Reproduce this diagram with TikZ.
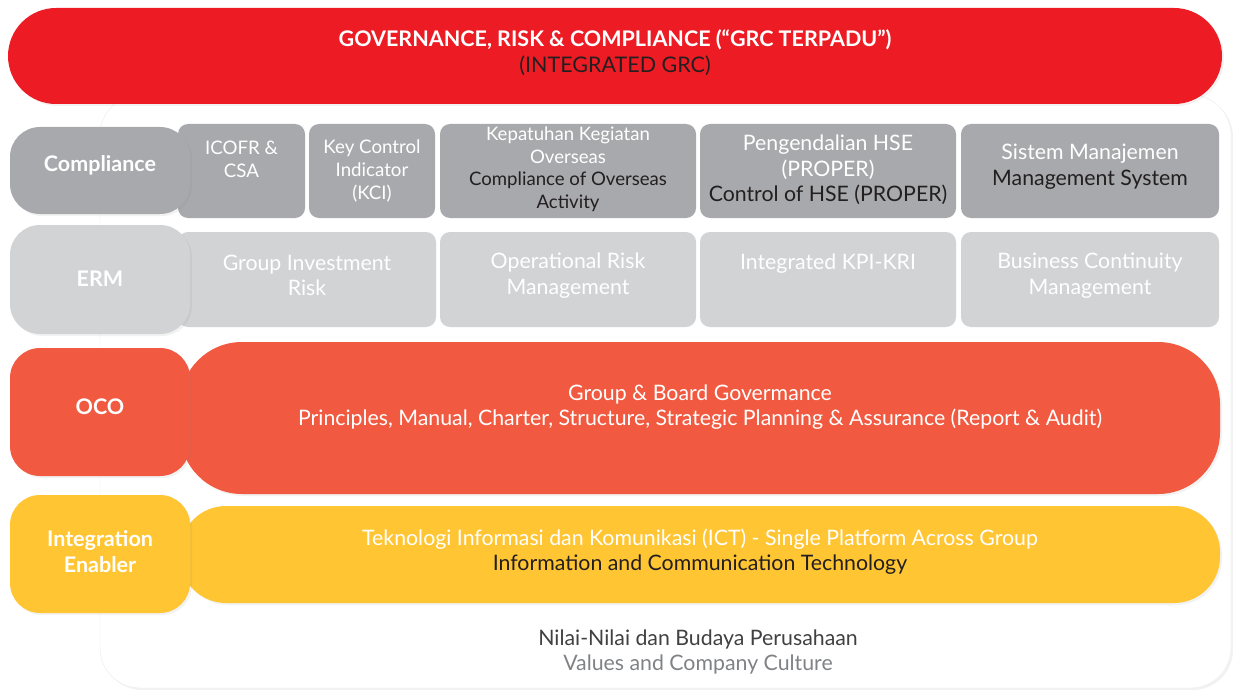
\documentclass[tikz,border=0pt]{standalone}
\usepackage{fontspec}
\setmainfont{Lato}
\usetikzlibrary{positioning,shadows}
\definecolor{grcred}{HTML}{ED1C24}
\definecolor{compgray}{HTML}{A7A9AC}
\definecolor{ermgray}{HTML}{D1D3D4}
\definecolor{ocored}{HTML}{F15A40}
\definecolor{ictyellow}{HTML}{FFC532}
\definecolor{ink}{HTML}{231F20}
\definecolor{culture}{HTML}{414042}
\definecolor{cultureen}{HTML}{808285}
\tikzset{
  softshadow/.style={drop shadow={opacity=.1,shadow xshift=2pt,shadow yshift=-2pt}},
  tag/.style={fill=#1, rounded corners=30pt, minimum width=180pt, inner sep=0pt, softshadow},
  cell/.style={fill=#1, rounded corners=10pt, inner sep=0pt},
  band/.style={fill=#1, inner sep=0pt, softshadow},
  txt/.style={font=\fontsize{21.3}{25.5}\selectfont, align=center, text=white, inner sep=0pt},
  tagtxt/.style={font=\fontsize{21.5}{26}\selectfont\bfseries, align=center, text=white, inner sep=0pt},
}
\begin{document}
\begin{tikzpicture}[x=1pt,y=-1pt]
\useasboundingbox (0,0) rectangle (1233,690);
% white panel behind everything
\draw[black!8, fill=white, rounded corners=40pt, softshadow] (100,95) rectangle (1231,688);

% top bar
\node[band=grcred, rounded corners=48pt, minimum width=1214pt, minimum height=96pt] (grc) at (615,56) {};
\node[txt, font=\fontsize{21.5}{26}\selectfont, yshift=3pt] (grctitle) at (grc) {\textbf{GOVERNANCE, RISK \& COMPLIANCE (“GRC TERPADU”)}\\\textcolor{ink}{(INTEGRATED GRC)}};

% compliance row
\node[cell=compgray, minimum width=127pt, minimum height=94pt] (icofr) at (241.5,171) {};
\node[cell=compgray, minimum width=126pt, minimum height=94pt] (kci) at (372,171) {};
\node[cell=compgray, minimum width=256pt, minimum height=94pt] (overseas) at (568,171) {};
\node[cell=compgray, minimum width=256pt, minimum height=94pt] (hse) at (828,171) {};
\node[cell=compgray, minimum width=258pt, minimum height=94pt] (sysmgmt) at (1090,171) {};
\node[txt, font=\fontsize{18.7}{23}\selectfont, yshift=12pt] (icofrtxt) at (icofr) {ICOFR \&\\CSA};
\node[txt, font=\fontsize{18.7}{23}\selectfont] (kcitxt) at (kci) {Key Control\\Indicator\\(KCI)};
\node[txt, font=\fontsize{18.6}{22.5}\selectfont, yshift=2pt] (overseastxt) at (overseas) {Kepatuhan Kegiatan\\Overseas\\\textcolor{ink}{Compliance of Overseas}\\\textcolor{ink}{Activity}};
\node[txt, yshift=1pt] (hsetxt) at (hse) {Pengendalian HSE\\(PROPER)\\\textcolor{ink}{Control of HSE (PROPER)}};
\node[txt, font=\fontsize{21.3}{26}\selectfont, yshift=4pt] (sysmgmttxt) at (sysmgmt) {Sistem Manajemen\\\textcolor{ink}{Management System}};

% ERM row
\node[cell=ermgray, minimum width=258pt, minimum height=95pt] (invest) at (307,279.5) {};
\node[cell=ermgray, minimum width=256pt, minimum height=95pt] (oprisk) at (568,279.5) {};
\node[cell=ermgray, minimum width=256pt, minimum height=95pt] (kpikri) at (828,279.5) {};
\node[cell=ermgray, minimum width=258pt, minimum height=95pt] (bcm) at (1090,279.5) {};
\node[txt, yshift=4pt] (investtxt) at (invest) {Group Investment\\Risk};
\node[txt, yshift=4pt] (oprisktxt) at (oprisk) {Operational Risk\\Management};
\node[txt, yshift=16pt] (kpikritxt) at (kpikri) {Integrated KPI-KRI};
\node[txt, yshift=4pt] (bcmtxt) at (bcm) {Business Continuity\\Management};

% OCO and ICT bands
\node[band=ocored, rounded corners=62pt, minimum width=1040pt, minimum height=152pt] (gov) at (700,418) {};
\node[txt, yshift=11pt] (govtxt) at (gov) {Group \& Board Govermance\\Principles, Manual, Charter, Structure, Strategic Planning \& Assurance (Report \& Audit)};
\node[band=ictyellow, rounded corners=46pt, minimum width=1040pt, minimum height=97pt] (ict) at (700,554.5) {};
\node[txt, yshift=3pt] (icttxt) at (ict) {Teknologi Informasi dan Komunikasi (ICT) - Single Platform Across Group\\\textcolor{ink}{Information and Communication Technology}};

% pillar tags on the left
\node[tag=compgray, minimum height=87pt] (compliance) at (100,170.5) {};
\node[tag=ermgray, minimum height=109pt] (erm) at (100,279.5) {};
\node[tag=ocored, minimum height=128pt] (oco) at (100,412) {};
\node[tag=ictyellow, minimum height=118pt] (enabler) at (100,554) {};
\node[tagtxt, yshift=5pt] (compliancetxt) at (compliance) {Compliance};
\node[tagtxt, yshift=1pt] (ermtxt) at (erm) {ERM};
\node[tagtxt, yshift=5pt] (ocotxt) at (oco) {OCO};
\node[tagtxt, yshift=2pt] (enablertxt) at (enabler) {Integration\\Enabler};

% values at the base
\node[txt, text=culture] (values) at (698,652) {Nilai-Nilai dan Budaya Perusahaan\\\textcolor{cultureen}{Values and Company Culture}};
\end{tikzpicture}
\end{document}
